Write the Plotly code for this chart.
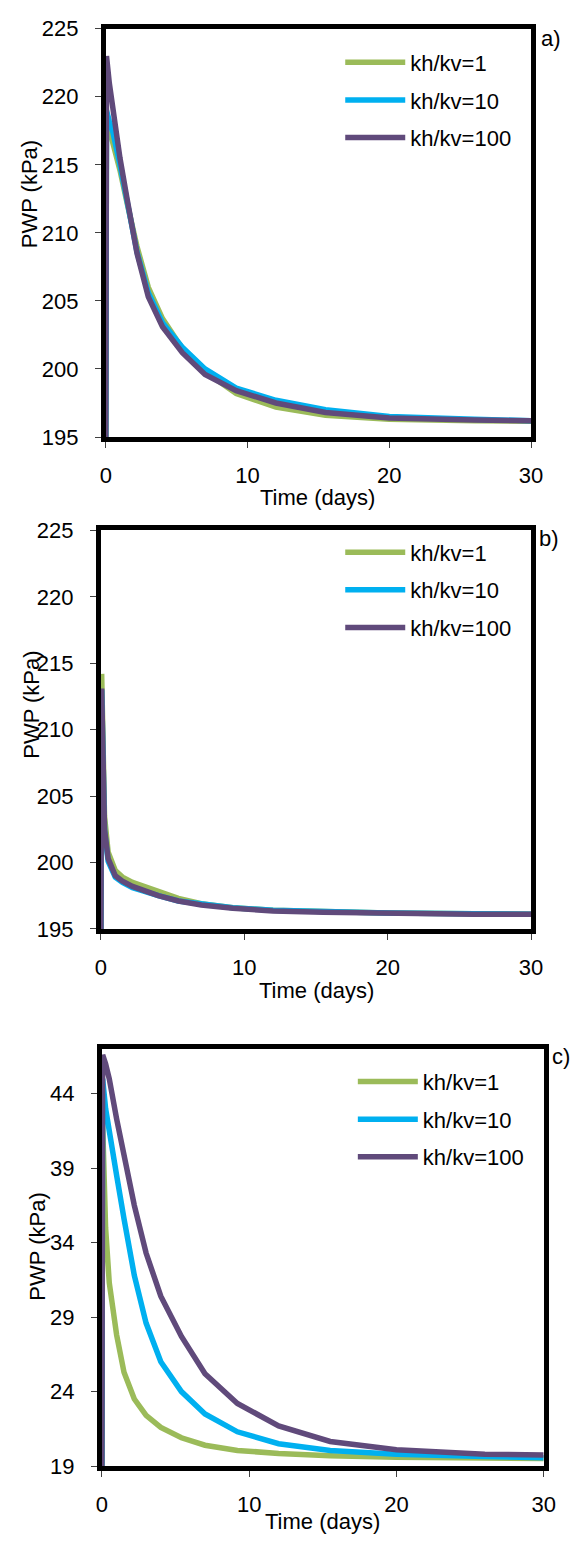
import plotly.graph_objects as go

# ---------------- data ----------------
time_days = [0, 0.05, 0.25, 0.5, 1.0, 1.5, 2.2, 3.0, 4.0, 5.4, 7.0, 9.2, 12.0, 15.5, 20.0, 26.0, 30.0]

series_names = ["kh/kv=1", "kh/kv=10", "kh/kv=100"]
series_colors = ["#9BBB59", "#00B0F0", "#604A7B"]

# panel a)
a_kh1 = [195, 218.5, 217.6, 216.6, 214.6, 212.2, 209.0, 206.0, 203.7, 201.5, 199.8, 198.2, 197.2, 196.6, 196.3, 196.2, 196.15]
a_kh10 = [195, 219.0, 218.2, 217.4, 215.0, 212.3, 208.6, 205.6, 203.4, 201.6, 200.0, 198.6, 197.7, 197.0, 196.5, 196.3, 196.2]
a_kh100 = [195, 223.0, 221.0, 219.0, 215.5, 212.5, 208.5, 205.3, 203.1, 201.2, 199.6, 198.4, 197.5, 196.8, 196.4, 196.25, 196.2]

# panel b)
b_kh1 = [195, 214.2, 203.5, 200.8, 199.4, 198.9, 198.5, 198.2, 197.8, 197.3, 196.9, 196.6, 196.4, 196.3, 196.2, 196.15, 196.1]
b_kh10 = [195, 213.0, 202.4, 200.1, 198.9, 198.5, 198.1, 197.8, 197.5, 197.1, 196.85, 196.6, 196.4, 196.3, 196.2, 196.15, 196.1]
b_kh100 = [195, 213.1, 202.5, 200.3, 199.0, 198.6, 198.2, 197.9, 197.5, 197.1, 196.8, 196.55, 196.35, 196.25, 196.15, 196.1, 196.1]

# panel c)
c_kh1 = [19, 42.0, 35.0, 31.3, 27.8, 25.3, 23.5, 22.4, 21.6, 20.9, 20.4, 20.05, 19.85, 19.7, 19.6, 19.55, 19.5]
c_kh10 = [19, 45.0, 43.0, 41.3, 38.5, 35.6, 31.8, 28.6, 26.0, 24.0, 22.5, 21.3, 20.5, 20.05, 19.8, 19.65, 19.55]
c_kh100 = [19, 46.6, 46.0, 45.0, 42.3, 40.0, 36.5, 33.3, 30.4, 27.7, 25.2, 23.2, 21.7, 20.65, 20.1, 19.8, 19.75]

x_ticks = [0, 10, 20, 30]
ab_y_ticks = [195, 200, 205, 210, 215, 220, 225]
c_y_ticks = [19, 24, 29, 34, 39, 44]

panel_labels = ["a)", "b)", "c)"]
x_title = "Time (days)"
y_title = "PWP (kPa)"

# ---------------- layout geometry ----------------
W, H = 577, 1544
FONT = "Arial, Liberation Sans, sans-serif"
FS = 22

def px_x(p):
    return p / W

def px_y(p):
    return 1 - p / H

panels = [
    dict(data=[a_kh1, a_kh10, a_kh100], xdom=(103, 542), ydom=(17, 432), yr=[195, 225], yticks=ab_y_ticks,
         leg=(345, 30), lab=(563, 27), xt=(322, 493), yt=(24, 185)),
    dict(data=[b_kh1, b_kh10, b_kh100], xdom=(98, 542), ydom=(527, 932), yr=[195, 225], yticks=ab_y_ticks,
         leg=(345, 528), lab=(560, 535), xt=(320, 995), yt=(26, 704)),
    dict(data=[c_kh1, c_kh10, c_kh100], xdom=(99, 555), ydom=(1054, 1478), yr=[19, 47], yticks=c_y_ticks,
         leg=(358, 1066), lab=(573, 1062), xt=(327, 1534), yt=(33, 1255)),
]

fig = go.Figure()
layout = dict(
    width=W, height=H, autosize=False,
    margin=dict(l=0, r=0, t=0, b=0),
    paper_bgcolor="white", plot_bgcolor="white",
    font=dict(family=FONT, size=FS, color="black"),
    annotations=[],
)

for i, p in enumerate(panels):
    n = "" if i == 0 else str(i + 1)
    xa, ya = "x" + n, "y" + n
    legname = "legend" if i == 0 else "legend" + str(i + 1)
    for k in range(3):
        fig.add_trace(go.Scatter(
            x=time_days, y=p["data"][k], mode="lines", name=series_names[k],
            line=dict(color=series_colors[k], width=5.5),
            xaxis=xa, yaxis=ya, legend=legname, legendgroup=f"g{i}{k}",
            showlegend=True,
        ))
    axis_common = dict(
        showgrid=False, zeroline=False, showline=True, linecolor="black", linewidth=5,
        mirror=True, ticks="outside", ticklen=6, tickwidth=1, tickcolor="#404040",
        tickfont=dict(family=FONT, size=FS, color="black"),
    )
    layout["xaxis" + n] = dict(
        axis_common, domain=[px_x(p["xdom"][0]), px_x(p["xdom"][1])], range=[0, 30],
        tickvals=x_ticks, anchor=ya, ticklabelstandoff=9,
    )
    layout["yaxis" + n] = dict(
        axis_common, domain=[px_y(p["ydom"][1]), px_y(p["ydom"][0])], range=p["yr"],
        tickvals=p["yticks"], anchor=xa, ticklabelstandoff=12,
    )
    layout[legname] = dict(
        x=px_x(p["leg"][0]), y=px_y(p["leg"][1]), xanchor="left", yanchor="top",
        bgcolor="rgba(0,0,0,0)", borderwidth=0, tracegroupgap=6,
        font=dict(family=FONT, size=FS, color="black"), itemwidth=60,
    )
    layout["annotations"] += [
        dict(text=panel_labels[i], x=px_x(p["lab"][0]), y=px_y(p["lab"][1]), xref="paper", yref="paper",
             showarrow=False, xanchor="center", yanchor="middle", font=dict(size=FS)),
        dict(text=x_title, x=px_x(p["xt"][0]), y=px_y(p["xt"][1]), xref="paper", yref="paper",
             showarrow=False, xanchor="center", yanchor="middle", font=dict(size=FS)),
        dict(text=y_title, x=px_x(p["yt"][0]), y=px_y(p["yt"][1]), xref="paper", yref="paper",
             showarrow=False, xanchor="center", yanchor="middle", textangle=-90, font=dict(size=FS)),
    ]

fig.update_layout(**layout)
fig.write_html(
    "out.html",
    config={"displayModeBar": False},
    post_script="document.body.style.margin='0';document.body.style.overflow='hidden';",
)
